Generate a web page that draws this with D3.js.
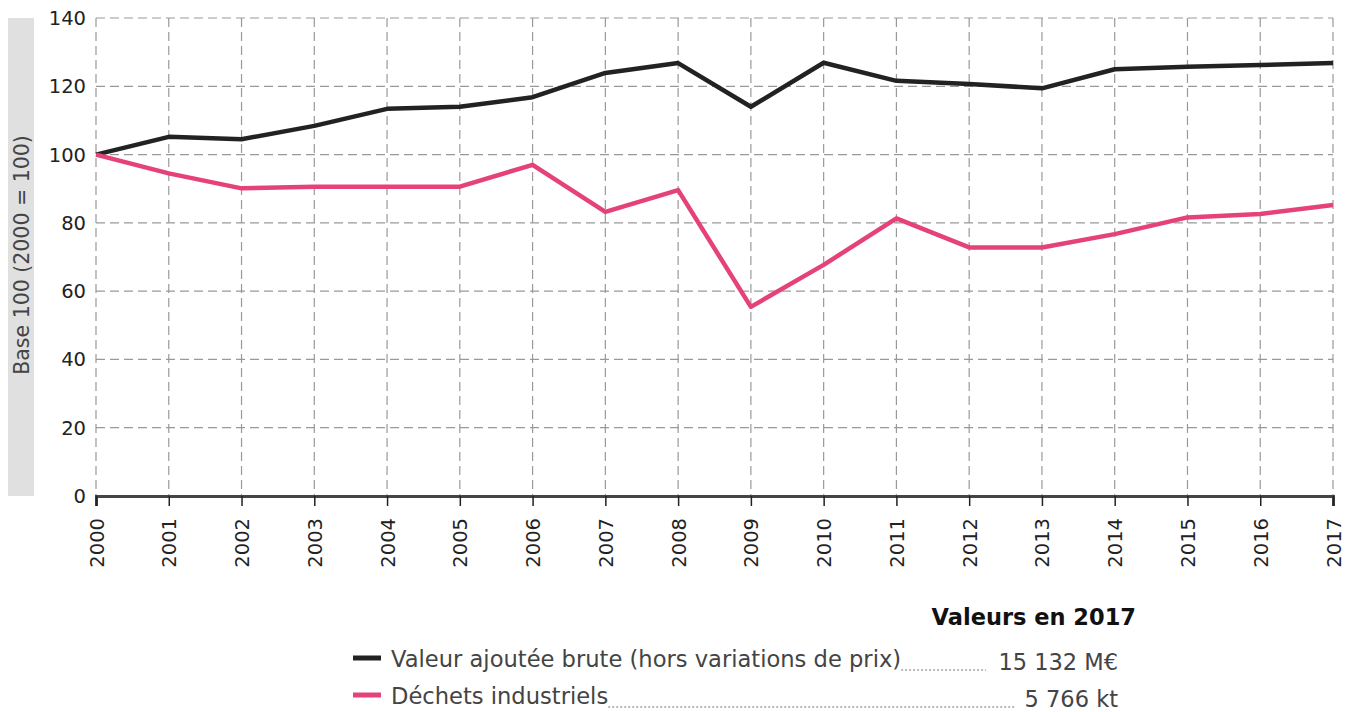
<!DOCTYPE html>
<html>
<head>
<meta charset="utf-8">
<script src="https://cdnjs.cloudflare.com/ajax/libs/d3/7.8.5/d3.min.js"></script>
<style>
  body { margin: 0; background: #fff; }
  svg { font-family: "DejaVu Sans", sans-serif; }
</style>
</head>
<body>
<div class="chart"></div>
<script>
var years = [2000, 2001, 2002, 2003, 2004, 2005, 2006, 2007, 2008, 2009, 2010, 2011, 2012, 2013, 2014, 2015, 2016, 2017];
var valeurAjoutee = [100, 105.2, 104.5, 108.4, 113.4, 114, 116.8, 123.9, 126.8, 114, 126.9, 121.6, 120.7, 119.4, 125, 125.7, 126.2, 126.8];
var dechets = [100, 94.5, 90.1, 90.6, 90.6, 90.6, 97, 83.2, 89.6, 55.4, 67.7, 81.3, 72.8, 72.8, 76.7, 81.6, 82.6, 85.2];
var yTicks = [0, 20, 40, 60, 80, 100, 120, 140];
var seriesNames = ["Valeur ajoutée brute (hors variations de prix)", "Déchets industriels"];
var seriesValues2017 = ["15 132 M€", "5 766 kt"];
var seriesColors = ["#222222", "#e6427a"];

var width = 1354, height = 712;
var margin = ({ top: 18, right: 21, bottom: 216, left: 96 });
var w = width - margin.left - margin.right;
var h = height - margin.top - margin.bottom;

var svg = d3.select(".chart").append("svg")
    .attr("width", width)
    .attr("height", height);

var x = d3.scaleLinear().domain([2000, 2017]).range([margin.left, margin.left + w]);
var y = d3.scaleLinear().domain([0, 140]).range([margin.top + h, margin.top]);

// y label box
svg.append("rect")
    .attr("x", 8).attr("y", margin.top)
    .attr("width", 26).attr("height", h)
    .attr("fill", "#e0e0e0");
svg.append("text")
    .attr("transform", "translate(29," + (margin.top + h / 2 - 2) + ") rotate(-90)")
    .attr("text-anchor", "middle")
    .attr("font-size", "20.5px")
    .attr("fill", "#444")
    .text("Base 100 (2000 = 100)");

// grid
svg.append("g").selectAll("line")
    .data(yTicks.filter(d => d > 0))
    .enter().append("line")
    .attr("x1", margin.left).attr("x2", margin.left + w)
    .attr("y1", d => y(d)).attr("y2", d => y(d))
    .attr("stroke", "#999").attr("stroke-width", 1.2)
    .attr("stroke-dasharray", "9,5");
svg.append("g").selectAll("line")
    .data(years)
    .enter().append("line")
    .attr("x1", d => x(d)).attr("x2", d => x(d))
    .attr("y1", margin.top).attr("y2", margin.top + h)
    .attr("stroke", "#999").attr("stroke-width", 1.2)
    .attr("stroke-dasharray", "9,5");

// y axis labels
svg.append("g").selectAll("text")
    .data(yTicks)
    .enter().append("text")
    .attr("x", margin.left - 10)
    .attr("y", d => y(d))
    .attr("dy", "0.36em")
    .attr("text-anchor", "end")
    .attr("font-size", "19.5px")
    .attr("fill", "#222")
    .text(d => d);

// x axis
var xAxis = svg.append("g")
    .attr("transform", "translate(0," + (margin.top + h) + ")")
    .call(d3.axisBottom(x).tickValues(years).tickFormat(d3.format("d")).tickSize(10).tickSizeOuter(10));
xAxis.select(".domain").attr("stroke", "#444").attr("stroke-width", 3);
xAxis.selectAll(".tick line").attr("stroke", "#222").attr("stroke-width", 1.5);
xAxis.selectAll(".tick text")
    .attr("font-family", "DejaVu Sans, sans-serif")
    .attr("font-size", "19.5px")
    .attr("fill", "#222")
    .attr("transform", "rotate(-90)")
    .attr("text-anchor", "end")
    .attr("x", -22)
    .attr("y", 0)
    .attr("dy", "0.36em");

// lines
var line = d3.line().x((d, i) => x(years[i])).y(d => y(d));
[valeurAjoutee, dechets].forEach(function (s, i) {
    svg.append("path")
        .datum(s)
        .attr("fill", "none")
        .attr("stroke", seriesColors[i])
        .attr("stroke-width", 4.5)
        .attr("stroke-linejoin", "round")
        .attr("d", line);
});

// legend
svg.append("text")
    .attr("x", 1136).attr("y", 625)
    .attr("text-anchor", "end")
    .attr("font-size", "22.5px")
    .attr("font-weight", "bold")
    .attr("fill", "#111")
    .text("Valeurs en 2017");

var leg = svg.append("g").selectAll("g")
    .data(seriesNames)
    .enter().append("g")
    .attr("transform", (d, i) => "translate(0," + (658 + i * 37) + ")");
leg.append("line")
    .attr("x1", 353).attr("x2", 381)
    .attr("stroke", (d, i) => seriesColors[i])
    .attr("stroke-width", 5);
leg.append("text")
    .attr("x", 391).attr("y", 9)
    .attr("font-size", "22.6px")
    .attr("fill", "#444")
    .text(d => d)
    .each(function (d, i) {
        var end = 391 + this.getComputedTextLength();
        d3.select(this.parentNode).append("line")
            .attr("x1", end).attr("x2", i == 0 ? 986 : 1015)
            .attr("y1", 12).attr("y2", 12)
            .attr("stroke", "#777").attr("stroke-width", 1)
            .attr("stroke-dasharray", "2,2");
    });
leg.append("text")
    .attr("x", 1118).attr("y", 12)
    .attr("text-anchor", "end")
    .attr("font-size", "22.5px")
    .attr("fill", "#444")
    .text((d, i) => seriesValues2017[i]);
</script>
</body>
</html>
